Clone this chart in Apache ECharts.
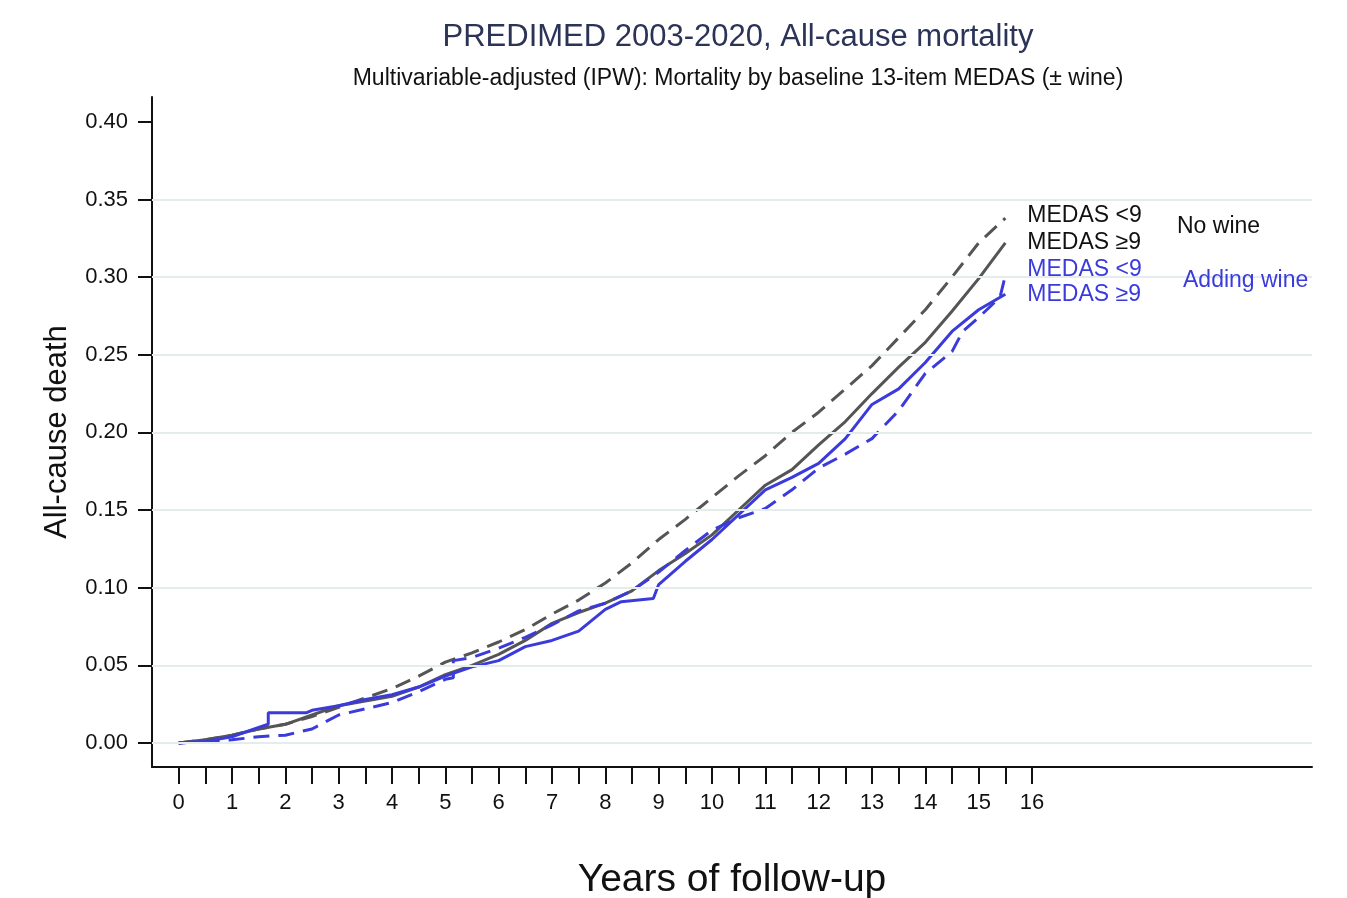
<!DOCTYPE html>
<html>
<head>
<meta charset="utf-8">
<script src="https://cdn.jsdelivr.net/npm/echarts@6/dist/echarts.min.js"></script>
<style>
  html, body { margin: 0; padding: 0; background: #fff; }
  #main { width: 1347px; height: 898px; }
</style>
</head>
<body>
<div id="main"></div>
<script>
// years of follow-up, read every half year
var years = [0, 0.5, 1, 1.5, 2, 2.5, 3, 3.5, 4, 4.5, 5, 5.5, 6, 6.5, 7, 7.5, 8, 8.5, 9, 9.5, 10, 10.5, 11, 11.5, 12, 12.5, 13, 13.5, 14, 14.5, 15, 15.5];

// no wine, MEDAS <9 (grey dashed)
var noWineLow = [0.000, 0.002, 0.005, 0.009, 0.012, 0.017, 0.023, 0.029, 0.035, 0.043, 0.052, 0.058, 0.065, 0.073, 0.083, 0.092, 0.103, 0.116, 0.131, 0.144, 0.158, 0.172, 0.185, 0.200, 0.213, 0.228, 0.243, 0.261, 0.279, 0.300, 0.322, 0.338];
// no wine, MEDAS >=9 (grey solid)
var noWineHigh = [0.000, 0.002, 0.005, 0.009, 0.012, 0.018, 0.024, 0.027, 0.030, 0.036, 0.044, 0.050, 0.057, 0.066, 0.077, 0.084, 0.090, 0.098, 0.111, 0.122, 0.134, 0.150, 0.166, 0.176, 0.192, 0.207, 0.225, 0.242, 0.258, 0.278, 0.299, 0.322];
// adding wine, MEDAS <9 (blue dashed)
var wineLowX = [0, 0.5, 1, 1.5, 2, 2.5, 3, 3.5, 4, 4.5, 5, 5.15, 5.15, 5.5, 6, 6.5, 7, 7.5, 8, 8.5, 9, 9.5, 10, 10.5, 11, 11.5, 12, 12.5, 13, 13.5, 14, 14.5, 14.7, 15, 15.4, 15.5];
var wineLow = [0.000, 0.001, 0.002, 0.004, 0.005, 0.009, 0.018, 0.022, 0.026, 0.033, 0.041, 0.042, 0.053, 0.055, 0.061, 0.068, 0.076, 0.085, 0.090, 0.098, 0.110, 0.124, 0.137, 0.145, 0.151, 0.163, 0.177, 0.186, 0.196, 0.214, 0.238, 0.252, 0.265, 0.274, 0.287, 0.301];
// adding wine, MEDAS >=9 (blue solid)
var wineHighX = [0, 0.5, 1, 1.5, 1.68, 1.68, 2, 2.4, 2.5, 3, 3.5, 4, 4.5, 5, 5.5, 6, 6.5, 7, 7.5, 8, 8.3, 8.9, 9, 9.5, 10, 10.5, 11, 11.5, 12, 12.5, 13, 13.5, 14, 14.5, 15, 15.5];
var wineHigh = [0.000, 0.001, 0.004, 0.010, 0.012, 0.0195, 0.0195, 0.0195, 0.021, 0.024, 0.028, 0.031, 0.036, 0.043, 0.049, 0.053, 0.062, 0.066, 0.072, 0.086, 0.091, 0.093, 0.102, 0.117, 0.131, 0.147, 0.163, 0.171, 0.180, 0.196, 0.218, 0.228, 0.245, 0.265, 0.279, 0.289];

var xTickLabels = [0, 1, 2, 3, 4, 5, 6, 7, 8, 9, 10, 11, 12, 13, 14, 15, 16];
var yTickLabels = [0, 0.05, 0.10, 0.15, 0.20, 0.25, 0.30, 0.35, 0.40];
var yGridLines = [0, 0.05, 0.10, 0.15, 0.20, 0.25, 0.30, 0.35];

var xTicks = [];
for (var i = 0; i <= 32; i++) xTicks.push(i * 0.5);

function pairs(xs, ys) {
    var out = [];
    for (var i = 0; i < ys.length; i++) out.push([xs[i], ys[i]]);
    return out;
}

var GREY = '#555555';
var BLUE = '#3b3bdc';
var FONT = 'Liberation Sans';

function lineSeries(name, data, color, dashed, labelColor, labelOffset) {
    return {
        name: name,
        type: 'line',
        data: data,
        symbol: 'none',
        z: 3,
        lineStyle: { color: color, width: 3, type: dashed ? [16, 9] : 'solid' },
        endLabel: {
            show: true,
            formatter: function () { return name; },
            color: labelColor,
            fontSize: 23,
            fontFamily: FONT,
            distance: 22,
            offset: labelOffset
        }
    };
}

var chart = echarts.init(document.getElementById('main'));
chart.setOption({
    animation: false,
    backgroundColor: '#fff',
    textStyle: { fontFamily: FONT },
    title: [{
        text: 'PREDIMED 2003-2020, All-cause mortality',
        left: 733, top: 17, textAlign: 'center',
        textStyle: { fontSize: 31, fontWeight: 'normal', color: '#2b3357', fontFamily: FONT }
    }, {
        text: 'Multivariable-adjusted (IPW): Mortality by baseline 13-item MEDAS (± wine)',
        left: 733, top: 62, textAlign: 'center',
        textStyle: { fontSize: 23, fontWeight: 'normal', color: '#111', fontFamily: FONT }
    }],
    grid: { left: 152, right: 35, top: 97, bottom: 131, outerBoundsMode: 'none' },
    xAxis: {
        type: 'value',
        min: -0.5, max: 21.25,
        name: 'Years of follow-up',
        nameLocation: 'middle',
        nameGap: 94,
        nameTextStyle: { fontSize: 39, color: '#111', fontFamily: FONT },
        axisLine: { show: true, onZero: false, lineStyle: { color: '#111', width: 2 } },
        axisTick: { show: true, customValues: xTicks, length: 17, lineStyle: { color: '#111', width: 2 } },
        axisLabel: { customValues: xTickLabels, margin: 25, fontSize: 22, color: '#111', fontFamily: FONT },
        splitLine: { show: false }
    },
    yAxis: {
        type: 'value',
        min: -0.0155, max: 0.416,
        name: 'All-cause death',
        nameLocation: 'middle',
        nameGap: 79,
        nameTextStyle: { fontSize: 31, color: '#111', fontFamily: FONT },
        axisLine: { show: true, onZero: false, lineStyle: { color: '#111', width: 2 } },
        axisTick: { show: true, customValues: yTickLabels, length: 14, lineStyle: { color: '#111', width: 2 } },
        axisLabel: {
            customValues: yTickLabels, margin: 24, fontSize: 22, color: '#111', fontFamily: FONT,
            formatter: function (v) { return v.toFixed(2); }
        },
        splitLine: { show: false }
    },
    graphic: [
        { type: 'text', z: 100, left: 1177, top: 215, style: { text: 'No wine', fontSize: 23, fill: '#111', fontFamily: FONT } },
        { type: 'text', z: 100, left: 1183, top: 269, style: { text: 'Adding wine', fontSize: 23, fill: BLUE, fontFamily: FONT } }
    ],
    series: [
        {
            type: 'line', data: [], z: 1, silent: true,
            markLine: {
                silent: true, symbol: 'none', label: { show: false },
                lineStyle: { color: '#e5ecee', width: 2, type: 'solid' },
                data: yGridLines.map(function (v) { return { yAxis: v }; })
            }
        },
        lineSeries('MEDAS <9', pairs(years, noWineLow), GREY, true, '#111', [0, -2]),
        lineSeries('MEDAS ≥9', pairs(years, noWineHigh), GREY, false, '#111', [0, 0]),
        lineSeries('MEDAS <9 ', pairs(wineLowX, wineLow), BLUE, true, BLUE, [0, -6]),
        lineSeries('MEDAS ≥9 ', pairs(wineHighX, wineHigh), BLUE, false, BLUE, [0, 0])
    ]
});
</script>
</body>
</html>
